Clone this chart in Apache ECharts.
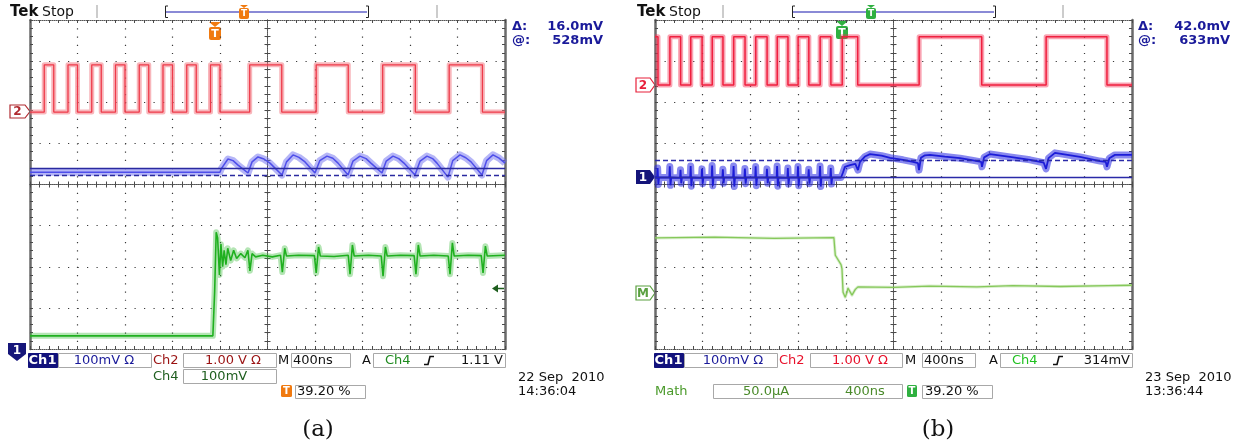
<!DOCTYPE html>
<html>
<head>
<meta charset="utf-8">
<script src="https://cdn.jsdelivr.net/npm/echarts@6/dist/echarts.min.js"></script>
<style>
html,body{margin:0;padding:0;background:#fff}
#scope{width:1250px;height:446px}
</style>
</head>
<body>
<div id="scope"></div>
<script>
// Time axis in ns (400 ns/div, 10 div), vertical axis in screen divisions (8 div)
const T_MIN = -2000, T_MAX = 2000, T_STEP = 400;
const DIV_MIN = -4, DIV_MAX = 4;

// ---- Capture (a) ----
// Ch2 logic signal: edge times (ns), starts low
const ch2EdgesA = [-1880, -1800, -1680, -1600, -1480, -1400, -1280, -1200, -1080, -1000,
  -880, -800, -680, -600, -480, -400, -150, 120, 410, 680, 970, 1245, 1530, 1810];
const ch2LowA = 1.76, ch2HighA = 2.91;

// Ch1 ripple [ns, div]
const ch1A = [[-2000, 0.30], [-400, 0.30], [-390, 0.38], [-333, 0.62], [-290, 0.58], [-248, 0.47],
  [-164, 0.28], [-130, 0.55], [-80, 0.67], [-30, 0.62], [21, 0.52], [122, 0.23], [160, 0.55],
  [215, 0.72], [265, 0.66], [316, 0.55], [400, 0.28], [440, 0.58], [501, 0.69], [550, 0.64],
  [594, 0.52], [678, 0.23], [720, 0.57], [779, 0.69], [830, 0.63], [871, 0.52], [964, 0.28],
  [1000, 0.57], [1057, 0.69], [1105, 0.63], [1149, 0.52], [1242, 0.23], [1285, 0.57],
  [1343, 0.69], [1390, 0.63], [1427, 0.52], [1520, 0.18], [1560, 0.58], [1621, 0.72],
  [1670, 0.65], [1714, 0.55], [1806, 0.23], [1845, 0.58], [1899, 0.72], [1950, 0.64], [2000, 0.52]];
const ch1CursorsA = [0.39, 0.23];

// Ch4 step response [ns, div]
const ch4A = [[-2000, -3.68], [-460, -3.68], [-445, -2.6], [-432, -1.16], [-420, -1.3], [-405, -2.2],
  [-392, -1.45], [-378, -2.0], [-365, -1.6], [-350, -1.95], [-335, -1.55], [-310, -1.85],
  [-285, -1.6], [-260, -1.8], [-225, -1.68], [-190, -1.78], [-165, -1.6], [-148, -2.1],
  [-130, -1.68], [-100, -1.76], [-40, -1.72], [40, -1.76], [110, -1.72], [125, -2.13],
  [145, -1.55], [160, -1.74], [260, -1.72], [395, -1.73], [410, -2.15], [430, -1.52],
  [445, -1.74], [560, -1.75], [680, -1.72], [695, -2.18], [715, -1.47], [730, -1.74],
  [850, -1.72], [958, -1.74], [973, -2.23], [993, -1.52], [1008, -1.74], [1120, -1.72],
  [1235, -1.73], [1250, -2.18], [1270, -1.47], [1285, -1.74], [1400, -1.72], [1522, -1.74],
  [1537, -2.18], [1557, -1.42], [1572, -1.74], [1690, -1.72], [1800, -1.73], [1815, -2.15],
  [1835, -1.5], [1850, -1.74], [2000, -1.72]];

// ---- Capture (b) ----
const ch2EdgesB = [-1975, -1875, -1785, -1700, -1605, -1520, -1430, -1340, -1245, -1155, -1060,
  -975, -885, -800, -710, -615, -525, -430, -300, 215, 740, 1280, 1790];
const ch2LowB = 2.42, ch2HighB = 3.59;

const ch1B = [[-2000, 0.17], [-1982, 0.16], [-1978, 0.40], [-1972, 0.00], [-1966, 0.17],
  [-1880, 0.17], [-1876, 0.44], [-1870, -0.02], [-1864, 0.17],
  [-1790, 0.16], [-1786, 0.36], [-1780, 0.03], [-1774, 0.17],
  [-1705, 0.17], [-1701, 0.45], [-1695, -0.04], [-1689, 0.17],
  [-1610, 0.16], [-1606, 0.38], [-1600, 0.02], [-1594, 0.17],
  [-1525, 0.17], [-1521, 0.46], [-1515, -0.03], [-1509, 0.17],
  [-1435, 0.17], [-1431, 0.37], [-1425, 0.03], [-1419, 0.17],
  [-1345, 0.17], [-1341, 0.45], [-1335, -0.05], [-1329, 0.17],
  [-1250, 0.16], [-1246, 0.39], [-1240, 0.02], [-1234, 0.17],
  [-1160, 0.17], [-1156, 0.44], [-1150, -0.03], [-1144, 0.17],
  [-1065, 0.17], [-1061, 0.38], [-1055, 0.03], [-1049, 0.17],
  [-980, 0.17], [-976, 0.45], [-970, -0.04], [-964, 0.17],
  [-890, 0.16], [-886, 0.40], [-880, 0.01], [-874, 0.17],
  [-805, 0.17], [-801, 0.44], [-795, -0.03], [-789, 0.17],
  [-715, 0.17], [-711, 0.37], [-705, 0.02], [-699, 0.17],
  [-620, 0.17], [-616, 0.45], [-610, -0.05], [-604, 0.17],
  [-530, 0.17], [-526, 0.40], [-520, 0.01], [-514, 0.17],
  [-440, 0.17], [-425, 0.28], [-407, 0.43], [-365, 0.47], [-320, 0.5], [-298, 0.35],
  [-281, 0.55], [-240, 0.68], [-197, 0.74], [-100, 0.70], [-29, 0.65], [80, 0.6], [164, 0.55],
  [205, 0.52], [214, 0.35], [230, 0.65], [264, 0.71], [306, 0.72], [430, 0.68], [558, 0.64],
  [680, 0.58], [735, 0.55], [742, 0.43], [760, 0.66], [809, 0.74], [977, 0.67], [1145, 0.6],
  [1260, 0.53], [1279, 0.38], [1300, 0.64], [1354, 0.77], [1564, 0.67], [1732, 0.57],
  [1780, 0.55], [1790, 0.43], [1810, 0.64], [1857, 0.72], [2000, 0.72]];
const ch1CursorsB = [0.18, 0.60];

// Math trace [ns, div]
const mathB = [[-2000, -1.30], [-1500, -1.28], [-1000, -1.31], [-500, -1.29], [-492, -1.30],
  [-488, -1.72], [-440, -1.95], [-432, -2.05], [-423, -2.62], [-405, -2.74], [-390, -2.62],
  [-382, -2.52], [-348, -2.69], [-320, -2.55], [-298, -2.49], [0, -2.50], [300, -2.47],
  [700, -2.49], [1000, -2.46], [1400, -2.48], [1800, -2.46], [2000, -2.45]];

// Panel geometry and trace colours
const panels = [
  {left: 30, width: 475, red: '#ee3a4a', redBand: 'rgba(242,110,120,0.5)',
   blue: '#4e4eea', blueBand: 'rgba(110,110,240,0.5)', green: '#1fb01f', greenBand: 'rgba(40,180,40,0.35)', greenW: 1.6},
  {left: 655, width: 477, red: '#f0203f', redBand: 'rgba(242,50,85,0.45)',
   blue: '#1c1cd8', blueBand: 'rgba(40,40,225,0.55)', green: '#86c85a', greenBand: 'rgba(130,200,90,0.3)', greenW: 1.3}
];

function stepTrace(edges, lo, hi, startHigh) {
  let high = startHigh;
  const pts = [[T_MIN, high ? hi : lo]];
  edges.forEach(t => {
    pts.push([t, high ? hi : lo]);
    high = !high;
    pts.push([t, high ? hi : lo]);
  });
  pts.push([T_MAX, high ? hi : lo]);
  return pts;
}

const xAxes = [], yAxes = [], grids = [], series = [];
const tickStyle = {color: '#4a4a4a', width: 1};

panels.forEach((p, gi) => {
  grids.push({left: p.left, top: 20, width: p.width, height: 329, show: false});
  const hDot = p.width / 50 - 1.2;
  const xb = {type: 'value', gridIndex: gi, min: T_MIN, max: T_MAX, interval: T_STEP,
    axisLabel: {show: false}, splitLine: {show: false},
    axisTick: {show: true, inside: true, length: 3, lineStyle: tickStyle},
    minorTick: {show: true, splitNumber: 5, length: 3, lineStyle: tickStyle}};
  const yb = {type: 'value', gridIndex: gi, min: DIV_MIN, max: DIV_MAX, interval: 1,
    axisLabel: {show: false}, splitLine: {show: false},
    axisTick: {show: true, inside: true, length: 3, lineStyle: tickStyle},
    minorTick: {show: true, splitNumber: 5, length: 3, lineStyle: tickStyle}};
  const dotted = {color: '#555', width: 1, type: [1, 1]};
  xAxes.push(Object.assign({}, xb, {position: 'top', axisLine: {show: true, onZero: false, lineStyle: dotted}}));
  xAxes.push(Object.assign({}, xb, {position: 'bottom', axisLine: {show: true, onZero: false, lineStyle: dotted},
    splitLine: {show: true, lineStyle: {color: '#3a3a3a', width: 1.2, type: [1.2, 329 / 40 - 1.2]}}}));
  xAxes.push(Object.assign({}, xb, {position: 'bottom', axisLine: {show: true, onZero: true, lineStyle: dotted}}));
  xAxes.push(Object.assign({}, xb, {position: 'bottom', axisLine: {show: true, onZero: true, lineStyle: dotted},
    axisTick: {show: true, inside: false, length: 3, lineStyle: tickStyle}}));
  const solidEdge = {color: '#6a6a6a', width: 2.5};
  yAxes.push(Object.assign({}, yb, {position: 'left', axisLine: {show: true, onZero: false, lineStyle: solidEdge},
    splitLine: {show: true, lineStyle: {color: '#3a3a3a', width: 1.2, type: [1.2, hDot]}}}));
  yAxes.push(Object.assign({}, yb, {position: 'right', axisLine: {show: true, onZero: false, lineStyle: solidEdge}}));
  yAxes.push(Object.assign({}, yb, {position: 'left', axisLine: {show: true, onZero: true, lineStyle: dotted}}));
  yAxes.push(Object.assign({}, yb, {position: 'left', axisLine: {show: true, onZero: true, lineStyle: dotted},
    axisTick: {show: true, inside: false, length: 3, lineStyle: tickStyle}}));
});

function trace(gi, data, color, band, width, bandWidth, extra) {
  const base = {type: 'line', xAxisIndex: gi * 4 + 1, yAxisIndex: gi * 4, data: data,
    showSymbol: false, symbol: 'none', silent: true, animation: false};
  series.push(Object.assign({}, base, {lineStyle: {color: band, width: bandWidth, join: 'round'}}));
  series.push(Object.assign({}, base, {lineStyle: {color: color, width: width}}, extra || {}));
}

function cursorLines(vals, color) {
  return {markLine: {silent: true, symbol: ['none', 'none'], label: {show: false}, animation: false,
    data: [{yAxis: vals[0], lineStyle: {color: color, width: 1.3, type: 'solid'}},
           {yAxis: vals[1], lineStyle: {color: color, width: 1.3, type: [5, 3]}}]}};
}

const pa = panels[0], pb = panels[1];
trace(0, stepTrace(ch2EdgesA, ch2LowA, ch2HighA, false), pa.red, pa.redBand, 1.3, 5);
trace(0, ch1A, pa.blue, pa.blueBand, 1.5, 7, cursorLines(ch1CursorsA, '#2a2aa0'));
trace(0, ch4A, pa.green, pa.greenBand, pa.greenW, 6);
trace(1, stepTrace(ch2EdgesB, ch2LowB, ch2HighB, true), pb.red, pb.redBand, 1.5, 5);
trace(1, ch1B, pb.blue, pb.blueBand, 1.8, 7, cursorLines(ch1CursorsB, '#2a2aa8'));
trace(1, mathB, pb.green, pb.greenBand, pb.greenW, 3);

// ---- readout graphics ----
const G = [];
const SANS = '"DejaVu Sans"';
function txt(x, y, s, fill, font, align) {
  G.push({type: 'text', x: x, y: y, silent: true,
    style: {text: s, fill: fill, font: font || ('13px ' + SANS), textAlign: align || 'left', textVerticalAlign: 'middle'}});
}
function box(x, y, w, h, fill, stroke) {
  G.push({type: 'rect', silent: true, shape: {x: x + 0.5, y: y + 0.5, width: w, height: h},
    style: {fill: fill || '#fff', stroke: stroke || '#a8a8a8', lineWidth: 1}});
}
function poly(pts, fill, stroke, lw) {
  G.push({type: 'polygon', silent: true, shape: {points: pts},
    style: {fill: fill || 'none', stroke: stroke || null, lineWidth: lw || 1}});
}
function line(pts, stroke, lw) {
  G.push({type: 'polyline', silent: true, shape: {points: pts}, style: {stroke: stroke, lineWidth: lw || 1, fill: null}});
}
function tIcon(cx, top, color, withPointer) {
  if (withPointer) poly([[cx - 6, top], [cx + 6, top], [cx, top + 5]], color);
  const by = withPointer ? top + 5 : top;
  G.push({type: 'rect', silent: true, shape: {x: cx - 6, y: by, width: 12, height: 13, r: 2}, style: {fill: color}});
  txt(cx, by + 7, 'T', '#fff', 'bold 11px ' + SANS, 'center');
}
function edgeSym(x, y) {
  line([[x, y + 4], [x + 4, y + 4], [x + 6, y - 4], [x + 10, y - 4]], '#111', 1.6);
}

const B = 'bold 13px ' + SANS;
const R = '13px ' + SANS;

// header, capture (a)
txt(10, 12, 'Tek', '#111', 'bold 15px ' + SANS);
txt(42, 12, 'Stop', '#111', '14px ' + SANS);
line([[97, 5], [97, 18]], '#999', 1);
line([[437, 5], [437, 18]], '#999', 1);
line([[166, 12], [367, 12]], '#8a8ad6', 2);
line([[168, 6], [165.5, 6], [165.5, 17.5], [168, 17.5]], '#222', 1);
line([[366, 6], [368.5, 6], [368.5, 17.5], [366, 17.5]], '#222', 1);
poly([[240, 5], [248, 5], [244, 8]], '#f07a10');
G.push({type: 'rect', silent: true, shape: {x: 239, y: 8, width: 10, height: 11, r: 2}, style: {fill: '#f07a10'}});
txt(244, 14, 'T', '#fff', 'bold 9px ' + SANS, 'center');
tIcon(215, 22, '#f07a10', true);
txt(512, 27, '\u0394:', '#1a1a9a', B);
txt(603, 27, '16.0mV', '#1a1a9a', B, 'right');
txt(512, 41, '@:', '#1a1a9a', B);
txt(603, 41, '528mV', '#1a1a9a', B, 'right');

// channel markers, capture (a)
poly([[10, 105], [25, 105], [30, 111.5], [25, 118], [10, 118]], '#fff', '#b02a30', 1.2);
txt(17.5, 112, '2', '#b02a30', 'bold 12px ' + SANS, 'center');
poly([[8, 343], [26, 343], [26, 354], [17, 361], [8, 354]], '#16167a');
txt(17, 351, '1', '#fff', 'bold 12px ' + SANS, 'center');
poly([[492, 288.5], [498, 284.5], [498, 292.5]], '#1e5e1e');
line([[497, 288.5], [504, 288.5]], '#1e5e1e', 1.5);

// bottom readout, capture (a)
box(28, 353, 29, 14, '#12127c', '#12127c');
txt(42.5, 360.5, 'Ch1', '#fff', B, 'center');
box(58, 353, 93, 14);
txt(104, 360.5, '100mV \u03a9', '#1a1a9a', R, 'center');
txt(153, 360.5, 'Ch2', '#9a1212', R);
box(183, 353, 93, 14);
txt(233, 360.5, '1.00 V \u03a9', '#9a1212', R, 'center');
txt(278, 360.5, 'M', '#111', R);
box(291, 353, 59, 14);
txt(293, 360.5, '400ns', '#111', R);
txt(362, 360.5, 'A', '#111', R);
box(373, 353, 132, 14);
txt(385, 360.5, 'Ch4', '#1e8a1e', R);
edgeSym(424, 360.5);
txt(503, 360.5, '1.11 V', '#111', R, 'right');
txt(153, 376.5, 'Ch4', '#1e5e1e', R);
box(183, 369, 93, 14);
txt(224, 376.5, '100mV', '#1e5e1e', R, 'center');
G.push({type: 'rect', silent: true, shape: {x: 281, y: 385, width: 11, height: 12, r: 1.5}, style: {fill: '#f07a10'}});
txt(286.5, 391.5, 'T', '#fff', 'bold 10px ' + SANS, 'center');
box(295, 385, 70, 13);
txt(297, 392, '39.20 %', '#111', R);
txt(518, 378, '22 Sep  2010', '#111', R);
txt(518, 392, '14:36:04', '#111', R);
txt(318, 430, '(a)', '#111', '23px "DejaVu Serif"', 'center');

// header, capture (b)
txt(637, 12, 'Tek', '#111', 'bold 15px ' + SANS);
txt(669, 12, 'Stop', '#111', '14px ' + SANS);
line([[723, 5], [723, 18]], '#999', 1);
line([[1063, 5], [1063, 18]], '#999', 1);
line([[793, 12], [994, 12]], '#8a8ad6', 2);
line([[795, 6], [792.5, 6], [792.5, 17.5], [795, 17.5]], '#222', 1);
line([[993, 6], [995.5, 6], [995.5, 17.5], [993, 17.5]], '#222', 1);
poly([[867, 5], [875, 5], [871, 8]], '#2fb040');
G.push({type: 'rect', silent: true, shape: {x: 866, y: 8, width: 10, height: 11, r: 2}, style: {fill: '#2fb040'}});
txt(871, 14, 'T', '#fff', 'bold 9px ' + SANS, 'center');
tIcon(842, 21, '#2fb040', true);
txt(1138, 27, '\u0394:', '#1a1a9a', B);
txt(1230, 27, '42.0mV', '#1a1a9a', B, 'right');
txt(1138, 41, '@:', '#1a1a9a', B);
txt(1230, 41, '633mV', '#1a1a9a', B, 'right');

// channel markers, capture (b)
poly([[636, 78], [650, 78], [655, 85], [650, 92], [636, 92]], '#fff', '#e8203a', 1.2);
txt(643, 85.5, '2', '#e8203a', 'bold 12px ' + SANS, 'center');
poly([[636, 170], [650, 170], [655, 177], [650, 184], [636, 184]], '#14147a');
txt(643, 177.5, '1', '#fff', 'bold 12px ' + SANS, 'center');
poly([[636, 286], [650, 286], [655, 293], [650, 300], [636, 300]], '#fff', '#5aa040', 1.2);
txt(643, 293.5, 'M', '#5aa040', 'bold 12px ' + SANS, 'center');

// bottom readout, capture (b)
box(654, 353, 29, 14, '#12127c', '#12127c');
txt(668.5, 360.5, 'Ch1', '#fff', B, 'center');
box(684, 353, 93, 14);
txt(733, 360.5, '100mV \u03a9', '#1a1a9a', R, 'center');
txt(779, 360.5, 'Ch2', '#e8102a', R);
box(810, 353, 92, 14);
txt(860, 360.5, '1.00 V \u03a9', '#e8102a', R, 'center');
txt(905, 360.5, 'M', '#111', R);
box(922, 353, 53, 14);
txt(924, 360.5, '400ns', '#111', R);
txt(989, 360.5, 'A', '#111', R);
box(1000, 353, 132, 14);
txt(1012, 360.5, 'Ch4', '#1fc01f', R);
edgeSym(1053, 360.5);
txt(1130, 360.5, '314mV', '#111', R, 'right');
txt(655, 391.5, 'Math', '#4a9a2a', R);
box(713, 384, 189, 14);
txt(743, 391.5, '50.0\u00b5A', '#4a8a2a', R);
txt(845, 391.5, '400ns', '#4a8a2a', R);
G.push({type: 'rect', silent: true, shape: {x: 907, y: 385, width: 10, height: 12, r: 1.5}, style: {fill: '#2fb040'}});
txt(912, 391.5, 'T', '#fff', 'bold 10px ' + SANS, 'center');
box(922, 385, 70, 13);
txt(925, 392, '39.20 %', '#111', R);
txt(1145, 378, '23 Sep  2010', '#111', R);
txt(1145, 392, '13:36:44', '#111', R);
txt(938, 430, '(b)', '#111', '23px "DejaVu Serif"', 'center');

const chart = echarts.init(document.getElementById('scope'), null, {renderer: 'canvas'});
chart.setOption({
  animation: false,
  backgroundColor: '#fff',
  grid: grids,
  xAxis: xAxes,
  yAxis: yAxes,
  series: series,
  graphic: {elements: G}
});
</script>
</body>
</html>
